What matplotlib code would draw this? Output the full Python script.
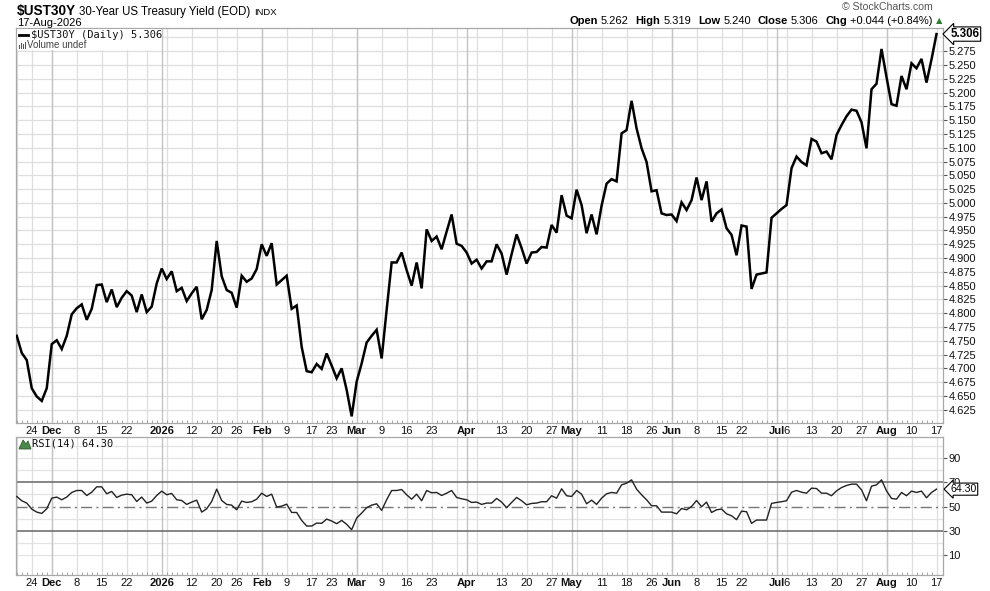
import numpy as np
import pandas as pd
import matplotlib
matplotlib.use("Agg")
import matplotlib.pyplot as plt
from matplotlib.patches import Rectangle, Polygon
from matplotlib.transforms import blended_transform_factory

plt.rcParams['font.family'] = ['Liberation Sans', 'DejaVu Sans']

#> trading calendar (bond market holidays)
holidays = ['2025-11-27', '2025-12-25', '2026-01-01', '2026-01-19', '2026-02-16',
            '2026-04-03', '2026-05-25', '2026-06-19', '2026-07-03']
tradeDates = pd.bdate_range('2025-11-19', '2026-08-17', freq='C', holidays=holidays)

#> daily close, $UST30Y
yieldClose = [
    4.759, 4.728, 4.715, 4.664, 4.649, 4.641, 4.664, 4.744, 4.751, 4.735,
    4.759, 4.798, 4.809, 4.816, 4.788, 4.808, 4.851, 4.852, 4.820, 4.843,
    4.811, 4.828, 4.840, 4.832, 4.802, 4.834, 4.802, 4.812, 4.854, 4.881,
    4.862, 4.876, 4.840, 4.846, 4.822, 4.836, 4.848, 4.789, 4.806, 4.842,
    4.931, 4.867, 4.842, 4.837, 4.810, 4.868, 4.857, 4.863, 4.880, 4.925,
    4.904, 4.927, 4.852, 4.860, 4.868, 4.808, 4.814, 4.739, 4.695, 4.693,
    4.708, 4.699, 4.727, 4.705, 4.682, 4.700, 4.661, 4.613, 4.676, 4.709,
    4.747, 4.759, 4.770, 4.718, 4.806, 4.892, 4.892, 4.910, 4.878, 4.850,
    4.892, 4.845, 4.952, 4.931, 4.939, 4.916, 4.948, 4.979, 4.926, 4.922,
    4.910, 4.890, 4.897, 4.881, 4.894, 4.894, 4.925, 4.908, 4.870, 4.907,
    4.943, 4.918, 4.890, 4.910, 4.911, 4.920, 4.919, 4.960, 4.946, 5.014,
    4.977, 4.972, 5.024, 4.996, 4.945, 4.979, 4.943, 4.995, 5.035, 5.043,
    5.039, 5.126, 5.132, 5.185, 5.135, 5.099, 5.074, 5.021, 5.023, 4.981,
    4.978, 4.979, 4.967, 5.001, 4.987, 5.005, 5.046, 5.005, 5.039, 4.966,
    4.981, 4.988, 4.954, 4.942, 4.905, 4.959, 4.957, 4.844, 4.870, 4.872,
    4.874, 4.973, 4.981, 4.989, 4.996, 5.063, 5.084, 5.074, 5.068, 5.116,
    5.111, 5.090, 5.093, 5.079, 5.123, 5.141, 5.157, 5.169, 5.167, 5.146,
    5.099, 5.206, 5.216, 5.279, 5.228, 5.179, 5.176, 5.230, 5.206, 5.253,
    5.244, 5.261, 5.218, 5.260, 5.306]

#> RSI(14)
rsiValues = [
    58.3, 54.8, 52.9, 48.0, 45.5, 44.4, 48.2, 56.9, 57.8, 55.6,
    57.8, 61.6, 63.2, 63.2, 59.1, 61.8, 66.2, 66.2, 60.5, 62.4,
    57.5, 59.4, 60.2, 59.7, 54.2, 57.8, 52.9, 54.5, 59.1, 62.7,
    59.7, 60.8, 55.6, 55.0, 51.8, 53.7, 55.3, 45.5, 48.2, 54.2,
    64.3, 55.0, 51.8, 51.2, 47.4, 54.5, 53.4, 54.0, 56.1, 61.0,
    58.3, 60.2, 49.6, 50.4, 52.0, 45.2, 45.2, 38.7, 34.1, 34.1,
    36.5, 36.3, 39.8, 38.2, 36.0, 38.7, 35.5, 31.1, 40.6, 44.7,
    49.1, 51.2, 52.3, 46.9, 55.6, 63.2, 63.2, 64.0, 59.7, 56.1,
    60.2, 54.8, 63.2, 61.3, 61.6, 59.1, 61.0, 63.2, 57.5, 56.4,
    55.6, 53.4, 53.7, 51.8, 52.9, 52.9, 56.7, 53.7, 49.1, 53.4,
    57.5, 54.8, 51.5, 52.6, 52.9, 54.0, 54.0, 58.9, 56.9, 64.6,
    58.9, 58.3, 63.2, 60.2, 52.3, 55.3, 51.8, 56.9, 60.5, 61.6,
    61.0, 67.8, 69.2, 71.9, 64.3, 59.7, 55.6, 50.7, 50.7, 45.5,
    45.5, 45.5, 44.1, 48.5, 47.4, 50.1, 55.0, 49.9, 53.7, 45.2,
    47.4, 48.0, 44.1, 42.5, 39.3, 46.3, 45.8, 36.3, 39.0, 39.0,
    39.0, 52.6, 53.4, 54.0, 54.8, 61.8, 63.2, 61.8, 61.0, 65.1,
    64.8, 61.0, 61.0, 58.9, 62.9, 65.6, 67.3, 68.4, 68.4, 63.7,
    54.8, 66.7, 67.8, 71.9, 62.9, 56.7, 56.1, 61.6, 58.9, 62.7,
    61.6, 62.7, 57.2, 61.6, 64.3]

#> x tick labels
tickDates = ['2025-11-24', '2025-12-01', '2025-12-08', '2025-12-15', '2025-12-22',
             '2026-01-02', '2026-01-12', '2026-01-20', '2026-01-26', '2026-02-02',
             '2026-02-09', '2026-02-17', '2026-02-23', '2026-03-02', '2026-03-09',
             '2026-03-16', '2026-03-23', '2026-04-01', '2026-04-13', '2026-04-20',
             '2026-04-27', '2026-05-01', '2026-05-11', '2026-05-18', '2026-05-26',
             '2026-06-01', '2026-06-08', '2026-06-15', '2026-06-22', '2026-07-01',
             '2026-07-06', '2026-07-13', '2026-07-20', '2026-07-27', '2026-08-03',
             '2026-08-10', '2026-08-17']
tickLabels = ['24', 'Dec', '8', '15', '22', '2026', '12', '20', '26', 'Feb',
              '9', '17', '23', 'Mar', '9', '16', '23', 'Apr', '13', '20',
              '27', 'May', '11', '18', '26', 'Jun', '8', '15', '22', 'Jul',
              '6', '13', '20', '27', 'Aug', '10', '17']
monthLabels = ['Dec', '2026', 'Feb', 'Mar', 'Apr', 'May', 'Jun', 'Jul', 'Aug']

priceTicks = np.round(np.arange(4.625, 5.2751, 0.025), 3)
rsiTicks = [10, 30, 50, 70, 90]

assert len(tradeDates) == len(yieldClose) == len(rsiValues)
xIdx = np.arange(len(tradeDates))
dateIndex = pd.Series(xIdx, index=tradeDates)
tickPos = [dateIndex[pd.Timestamp(d)] for d in tickDates]

# week / month starts for the vertical grid
dts = pd.Series(tradeDates)
weekStarts = xIdx[(dts.dt.isocalendar().week.diff().fillna(1) != 0).values]
monthStarts = xIdx[(dts.dt.month.diff().fillna(1) != 0).values][1:]

W, H = 990, 591
fig = plt.figure(figsize=(W / 100, H / 100), dpi=100)
fig.patch.set_facecolor('white')
renderer = fig.canvas.get_renderer()

def fx(px):
    return px / W

def fy(py):
    return 1 - py / H

axMain = fig.add_axes([fx(16), fy(423), fx(943) - fx(16), fy(28) - fy(423)])
axRsi = fig.add_axes([fx(16), fy(575), fx(943) - fx(16), fy(437) - fy(575)])

gridLight = '#dedede'
gridMonth = '#c4c4c4'
spineCol = '#a8a8a8'

for ax in (axMain, axRsi):
    ax.set_xlim(-0.15, 185.3)
    for p in weekStarts:
        ax.axvline(p, color=gridLight, lw=0.9, zorder=0.5)
    for p in monthStarts:
        ax.axvline(p, color=gridMonth, lw=1.0, zorder=0.6)
    for s in ax.spines.values():
        s.set_color(spineCol)
        s.set_linewidth(0.9)
    ax.set_xticks(tickPos)
    ax.set_xticklabels(tickLabels)
    for lbl in ax.get_xticklabels():
        lbl.set_fontsize(8)
        lbl.set_color('#111111')
        if lbl.get_text() in monthLabels:
            lbl.set_fontweight('bold')
    ax.set_xticks(xIdx, minor=True)
    ax.tick_params(axis='x', which='major', length=0, pad=2)
    ax.tick_params(axis='x', which='minor', length=2, direction='in', color='#999999', width=0.6)
    ax.yaxis.tick_right()
    ax.tick_params(axis='y', which='major', length=3, color='#555555', labelsize=8, pad=1,
                   labelcolor='#111111')

#> price panel
axMain.set_ylim(4.601, 5.317)
for v in np.arange(4.625, 5.3001, 0.025):
    axMain.axhline(v, color=gridLight, lw=0.9, zorder=0.4)
axMain.set_yticks(priceTicks)
axMain.set_yticklabels(['%.3f' % v for v in priceTicks])
axMain.plot(xIdx, yieldClose, color='black', lw=1.8, zorder=4, solid_joinstyle='miter')

# legend block inside chart
axMain.add_patch(Rectangle((fx(17), fy(50)), fx(160) - fx(17), fy(29) - fy(50),
                           transform=fig.transFigure, facecolor='white', edgecolor='none', zorder=3))
axMain.plot([fx(19), fx(28)], [fy(35), fy(35)], color='black', lw=2, transform=fig.transFigure,
            zorder=5, clip_on=False)
fig.text(fx(31), fy(35), '$UST30Y (Daily) 5.306', family='DejaVu Sans Mono', fontsize=7.5,
         va='center', ha='left', color='#111111', zorder=6)
for bx, bh in ((19, 4), (21, 6), (23, 5), (25, 7)):
    fig.patches.append(Rectangle((fx(bx), fy(49)), fx(1.3), fy(49 - bh) - fy(49),
                                 transform=fig.transFigure, facecolor='#555555', edgecolor='none'))
fig.text(fx(27), fy(45.5), 'Volume undef', fontsize=7, va='center', ha='left', color='#444444')

#> RSI panel
axRsi.set_ylim(-6, 107)
for v in (10, 20, 40, 60, 80, 90, 100):
    axRsi.axhline(v, color='#e4e4e4', lw=0.9, zorder=0.4)
axRsi.axhline(70, color='#666666', lw=1.1, zorder=1)
axRsi.axhline(30, color='#666666', lw=1.1, zorder=1)
axRsi.axhline(50, color='#777777', lw=1.0, ls=(0, (8, 3, 1.5, 3)), zorder=1)
axRsi.set_yticks(rsiTicks)
axRsi.set_yticklabels([str(v) for v in rsiTicks])
axRsi.plot(xIdx, rsiValues, color='#222222', lw=1.0, zorder=4)
fig.patches.append(Polygon([[fx(19), fy(449)], [fx(23), fy(440)], [fx(26), fy(444)],
                            [fx(28), fy(441)], [fx(31), fy(449)]], closed=True,
                           transform=fig.transFigure, facecolor='#4a8a4a', edgecolor='#2f5f2f', lw=0.6))
fig.text(fx(32), fy(444), 'RSI(14) 64.30', family='DejaVu Sans Mono', fontsize=7.5,
         va='center', ha='left', color='#111111')

#> last value tags
def lastTag(ax, value, text, bold, size):
    tr = blended_transform_factory(ax.transAxes, ax.transData)
    ax.text(1.008, value, text, transform=tr, ha='left', va='center', fontsize=size,
            fontweight='bold' if bold else 'normal', color='black', zorder=10, clip_on=False,
            bbox=dict(boxstyle='larrow,pad=0.1', fc='white', ec='black', lw=0.8))

lastTag(axMain, yieldClose[-1], '%.3f' % yieldClose[-1], True, 8.3)
lastTag(axRsi, rsiValues[-1], '%.2f' % rsiValues[-1], False, 7.6)

#> header, laid out piece by piece
def runText(x0, y0, pieces):
    cursor = x0
    for txt, size, wt, gap in pieces:
        cursor += gap
        t = fig.text(fx(cursor), fy(y0), txt, fontsize=size, fontweight=wt, va='baseline', ha='left')
        cursor += t.get_window_extent(renderer).width
    return cursor

runText(17, 15, [('$UST30Y', 9.8, 'bold', 0), ('30-Year US Treasury Yield (EOD)', 8.3, 'normal', 3),
                 ('INDX', 6.8, 'normal', 4)])
fig.text(fx(17), fy(23), '17-Aug-2026', fontsize=8, va='center', ha='left')
fig.text(fx(933), fy(7), '\u00a9 StockCharts.com', fontsize=7.6, va='center', ha='right',
         color='#555555')

headerPieces = [('Open', 'bold', 0), ('5.262', 'normal', 3), ('High', 'bold', 7),
                ('5.319', 'normal', 3), ('Low', 'bold', 7), ('5.240', 'normal', 3),
                ('Close', 'bold', 7), ('5.306', 'normal', 3), ('Chg', 'bold', 7),
                ('+0.044 (+0.84%)', 'normal', 3)]
texts = []
widths = []
for txt, wt, gap in headerPieces:
    t = fig.text(0, fy(21), txt, fontsize=8, fontweight=wt, va='center', ha='left')
    texts.append(t)
    widths.append(t.get_window_extent(renderer).width)
totalW = sum(widths) + sum(g for _, _, g in headerPieces)
cursor = 933 - totalW
for t, w, (_, _, gap) in zip(texts, widths, headerPieces):
    cursor += gap
    t.set_x(fx(cursor))
    cursor += w
fig.text(fx(939), fy(21), '\u25b2', fontsize=6, color='#2e7d32', va='center', ha='center',
         family=['DejaVu Sans'])

fig.savefig('out.png', dpi=100, facecolor='white')
